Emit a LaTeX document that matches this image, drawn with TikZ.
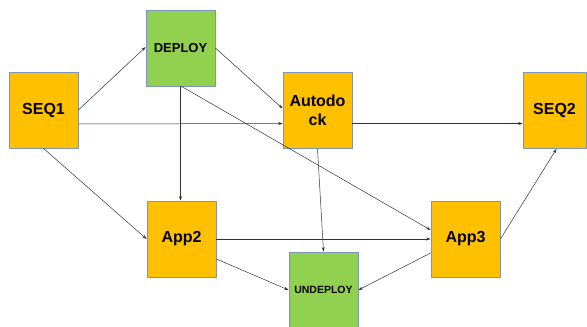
\documentclass[tikz,border=0pt]{standalone}
\usepackage{fontspec}
\setmainfont{Liberation Sans}
\usetikzlibrary{arrows.meta}
\definecolor{boxorange}{HTML}{FFC000}
\definecolor{boxgreen}{HTML}{92D050}
\definecolor{boxline}{HTML}{7A96BC}
\begin{document}
\begin{tikzpicture}[x=1pt, y=-1pt, line join=round, >={Stealth[length=4.5pt,width=3pt]},
  stage/.style={draw=boxline, line width=0.8pt, fill=boxorange, minimum width=69pt, minimum height=76pt, inner sep=0pt, align=center, font=\bfseries\fontsize{16}{19}\selectfont},
  task/.style={stage, fill=boxgreen},
  flow/.style={->, draw=black!80, line width=0.5pt}]
\useasboundingbox (0,0) rectangle (587,327);
\node[stage] (seq1) at (43.5,110) {SEQ1};
\node[task, font=\bfseries\fontsize{13}{15}\selectfont] (deploy) at (180.5,48) {DEPLOY};
\node[stage] (dock) at (317.5,110.5) {Autodo\\ck};
\node[stage, minimum width=63pt] (seq2) at (554.5,110.5) {SEQ2};
\node[stage] (app2) at (181.5,239) {App2};
\node[stage] (app3) at (465.5,239) {App3};
\node[task, font=\bfseries\fontsize{10.5}{12}\selectfont] (undeploy) at (323.5,290) {UNDEPLOY};
% top row
\draw[flow] (seq1.east) -- ([yshift=1pt]deploy.west);
\draw[flow] (deploy.east) -- ([yshift=2pt]dock.west);
\draw[flow] ([yshift=-14pt]seq1.east) -- ([yshift=-13pt]dock.west);
\draw[flow] ([yshift=-13pt]dock.east) -- ([yshift=-13pt]seq2.west);
% down
\draw[flow] (deploy.south) -- ([xshift=-1pt]app2.north);
\draw[flow] ([xshift=1pt]deploy.south) -- ([yshift=9pt]app3.west);
\draw[flow] (seq1.south) -- (app2.west);
\draw[flow] (dock.south) -- (undeploy.north);
% bottom row
\draw[flow] (app2.east) -- (app3.west);
\draw[flow] ([yshift=-20pt]app2.east) -- (undeploy.west);
\draw[flow] ([yshift=-14pt]app3.west) -- (undeploy.east);
\draw[flow] (app3.east) -- ([xshift=2pt]seq2.south);
\end{tikzpicture}
\end{document}
